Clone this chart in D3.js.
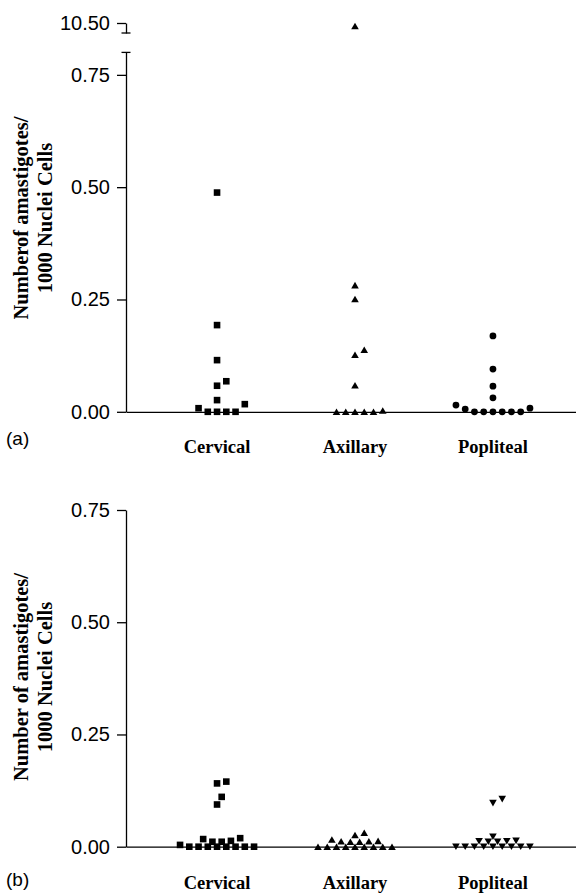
<!DOCTYPE html>
<html><head><meta charset="utf-8">
<script src="https://cdn.jsdelivr.net/npm/d3@7"></script>
<style>
html,body{margin:0;padding:0;background:#fff;}
svg{display:block;}
</style></head>
<body>
<svg id="chart" width="576" height="894"></svg>
<script>
// ---------- data ----------
const categories = ["Cervical", "Axillary", "Popliteal"];
const tickValues = [0, 0.25, 0.5, 0.75];
const breakTickValues = [10.5];
const panelLabels = ["(a)", "(b)"];
const titleA = ["Numberof amastigotes/", "1000 Nuclei Cells"];
const titleB = ["Number of amastigotes/", "1000 Nuclei Cells"];

// panel (a)
const cervicalA  = [0.488, 0.193, 0.115, 0.068, 0.058, 0.026, 0.017, 0.008, 0, 0, 0, 0];
const axillaryA  = [10.494, 0.282, 0.251, 0.138, 0.127, 0.059, 0.003, 0, 0, 0, 0, 0];
const poplitealA = [0.169, 0.095, 0.057, 0.031, 0.015, 0.008, 0.006, 0, 0, 0, 0, 0, 0];
// panel (b)
const cervicalB  = [0.145, 0.141, 0.111, 0.094, 0.019, 0.017, 0.013, 0.011, 0.011, 0.004, 0, 0, 0, 0, 0, 0, 0, 0];
const axillaryB  = [0.031, 0.026, 0.016, 0.013, 0.012, 0.012, 0.011, 0.011, 0, 0, 0, 0, 0, 0, 0, 0, 0];
const poplitealB = [0.106, 0.097, 0.022, 0.013, 0.012, 0.012, 0.011, 0.011, 0, 0, 0, 0, 0, 0, 0, 0, 0];

// ---------- layout ----------
const svg = d3.select("#chart");
const axisX = 126;
const SLOT = 9.25;
const serif = "'Liberation Serif','Times New Roman',serif";
const sans = "'Liberation Sans',Arial,sans-serif";

const x = d3.scalePoint().domain(categories).range([axisX, 584]).padding(0.66);

// symbol paths (relative to a centre)
const symbols = {
  square: (cx, cy) => { const h = 3.3; return `M${cx-h},${cy-h}H${cx+h}V${cy+h}H${cx-h}Z`; },
  circle: (cx, cy) => { const r = 3.4; return `M${cx-r},${cy}A${r},${r} 0 1,0 ${cx+r},${cy}A${r},${r} 0 1,0 ${cx-r},${cy}Z`; },
  up:     (cx, cy) => { const w = 3.8, h = 3.3; return `M${cx},${cy-h}L${cx+w},${cy+h}L${cx-w},${cy+h}Z`; },
  down:   (cx, cy) => { const w = 3.8, h = 3.3; return `M${cx},${cy+h}L${cx+w},${cy-h}L${cx-w},${cy-h}Z`; }
};

// column scatter layout: ascending values, alternate sides, avoid overlaps
function layout(values, yPix, half) {
  const pts = values.map(v => ({v, py: yPix(v)})).sort((a, b) => a.v - b.v);
  const placed = [];
  const cands = [0];
  const stepK = half ? 0.5 : 1;
  for (let k = stepK; k <= 12; k += stepK) { cands.push(k, -k); }
  const A = 5.8, B = 8;
  pts.forEach(p => {
    for (const c of cands) {
      const dx = c * SLOT;
      const hit = placed.some(q => {
        const ex = (dx - q.dx) / A, ey = (p.py - q.py) / B;
        return ex * ex + ey * ey < 1;
      });
      if (!hit) { p.dx = dx; placed.push(p); break; }
    }
  });
  return placed;
}

function drawPanel(cfg) {
  const g = svg.append("g");
  const y = d3.scaleLinear().domain(cfg.domain).range([cfg.y0, cfg.yTop]);
  let yTop = null;
  if (cfg.breakDomain) yTop = d3.scaleLinear().domain(cfg.breakDomain).range(cfg.breakRange);
  const yPix = v => (yTop && v > cfg.domain[1]) ? yTop(v) : y(v);

  // y axis (lower)
  g.append("g").attr("transform", `translate(${axisX},0)`)
    .call(d3.axisLeft(y).tickValues(tickValues).tickFormat(d3.format(".2f")).tickSize(9).tickSizeOuter(0).tickPadding(7));
  // upper segment of broken axis
  if (yTop) {
    g.append("g").attr("transform", `translate(${axisX},0)`)
      .call(d3.axisLeft(yTop).tickValues(breakTickValues).tickFormat(d3.format(".2f")).tickSize(9).tickSizeOuter(0).tickPadding(7));
    const caps = [cfg.breakRange[0], cfg.yTop];
    g.selectAll("line.cap").data(caps).join("line").attr("class", "cap")
      .attr("x1", axisX - 4.5).attr("x2", axisX + 4.5).attr("y1", d => d).attr("y2", d => d)
      .attr("stroke", "#000").attr("stroke-width", 1.3);
  }
  g.selectAll(".domain, .tick line").attr("stroke", "#000").attr("stroke-width", 1.3);
  g.selectAll(".tick text").attr("font-family", sans).attr("font-size", 20).attr("fill", "#000");

  // x axis
  g.append("g").attr("transform", `translate(0,${cfg.y0})`)
    .call(d3.axisBottom(x).tickSize(0).tickFormat(""))
    .select(".domain").attr("stroke", "#000").attr("stroke-width", 1.3);

  // category labels
  g.selectAll("text.cat").data(categories).join("text").attr("class", "cat")
    .attr("x", d => x(d)).attr("y", cfg.catY).attr("text-anchor", "middle")
    .attr("font-family", serif).attr("font-weight", "bold").attr("font-size", 18.5).text(d => d);

  // y title
  const t = g.append("text").attr("transform", `translate(0,${cfg.titleY}) rotate(-90)`)
    .attr("text-anchor", "middle").attr("font-family", serif).attr("font-weight", "bold").attr("font-size", 20.5);
  cfg.title.forEach((line, i) => t.append("tspan").attr("x", 0).attr("y", 28 + i * 24).text(line));

  // panel label
  g.append("text").attr("x", cfg.labelX).attr("y", cfg.labelY).attr("font-family", sans).attr("font-size", 19).text(cfg.label);

  // points
  cfg.series.forEach((vals, i) => {
    const pts = layout(vals, yPix, cfg.half);
    g.append("g").selectAll("path").data(pts).join("path")
      .attr("d", p => symbols[cfg.symbols[i]](x(categories[i]) + p.dx, p.py))
      .attr("fill", "#000");
  });
}

drawPanel({
  domain: [0, 0.8], y0: 411.8, yTop: 52.4,
  breakDomain: [10.48, 10.5], breakRange: [33, 23],
  series: [cervicalA, axillaryA, poplitealA], symbols: ["square", "up", "circle"],
  half: false, catY: 453, titleY: 218, title: titleA, label: panelLabels[0], labelX: 6, labelY: 445
});
drawPanel({
  domain: [0, 0.75], y0: 846.7, yTop: 510,
  series: [cervicalB, axillaryB, poplitealB], symbols: ["square", "up", "down"],
  half: true, catY: 889, titleY: 677, title: titleB, label: panelLabels[1], labelX: 6, labelY: 886
});
</script>
</body></html>
